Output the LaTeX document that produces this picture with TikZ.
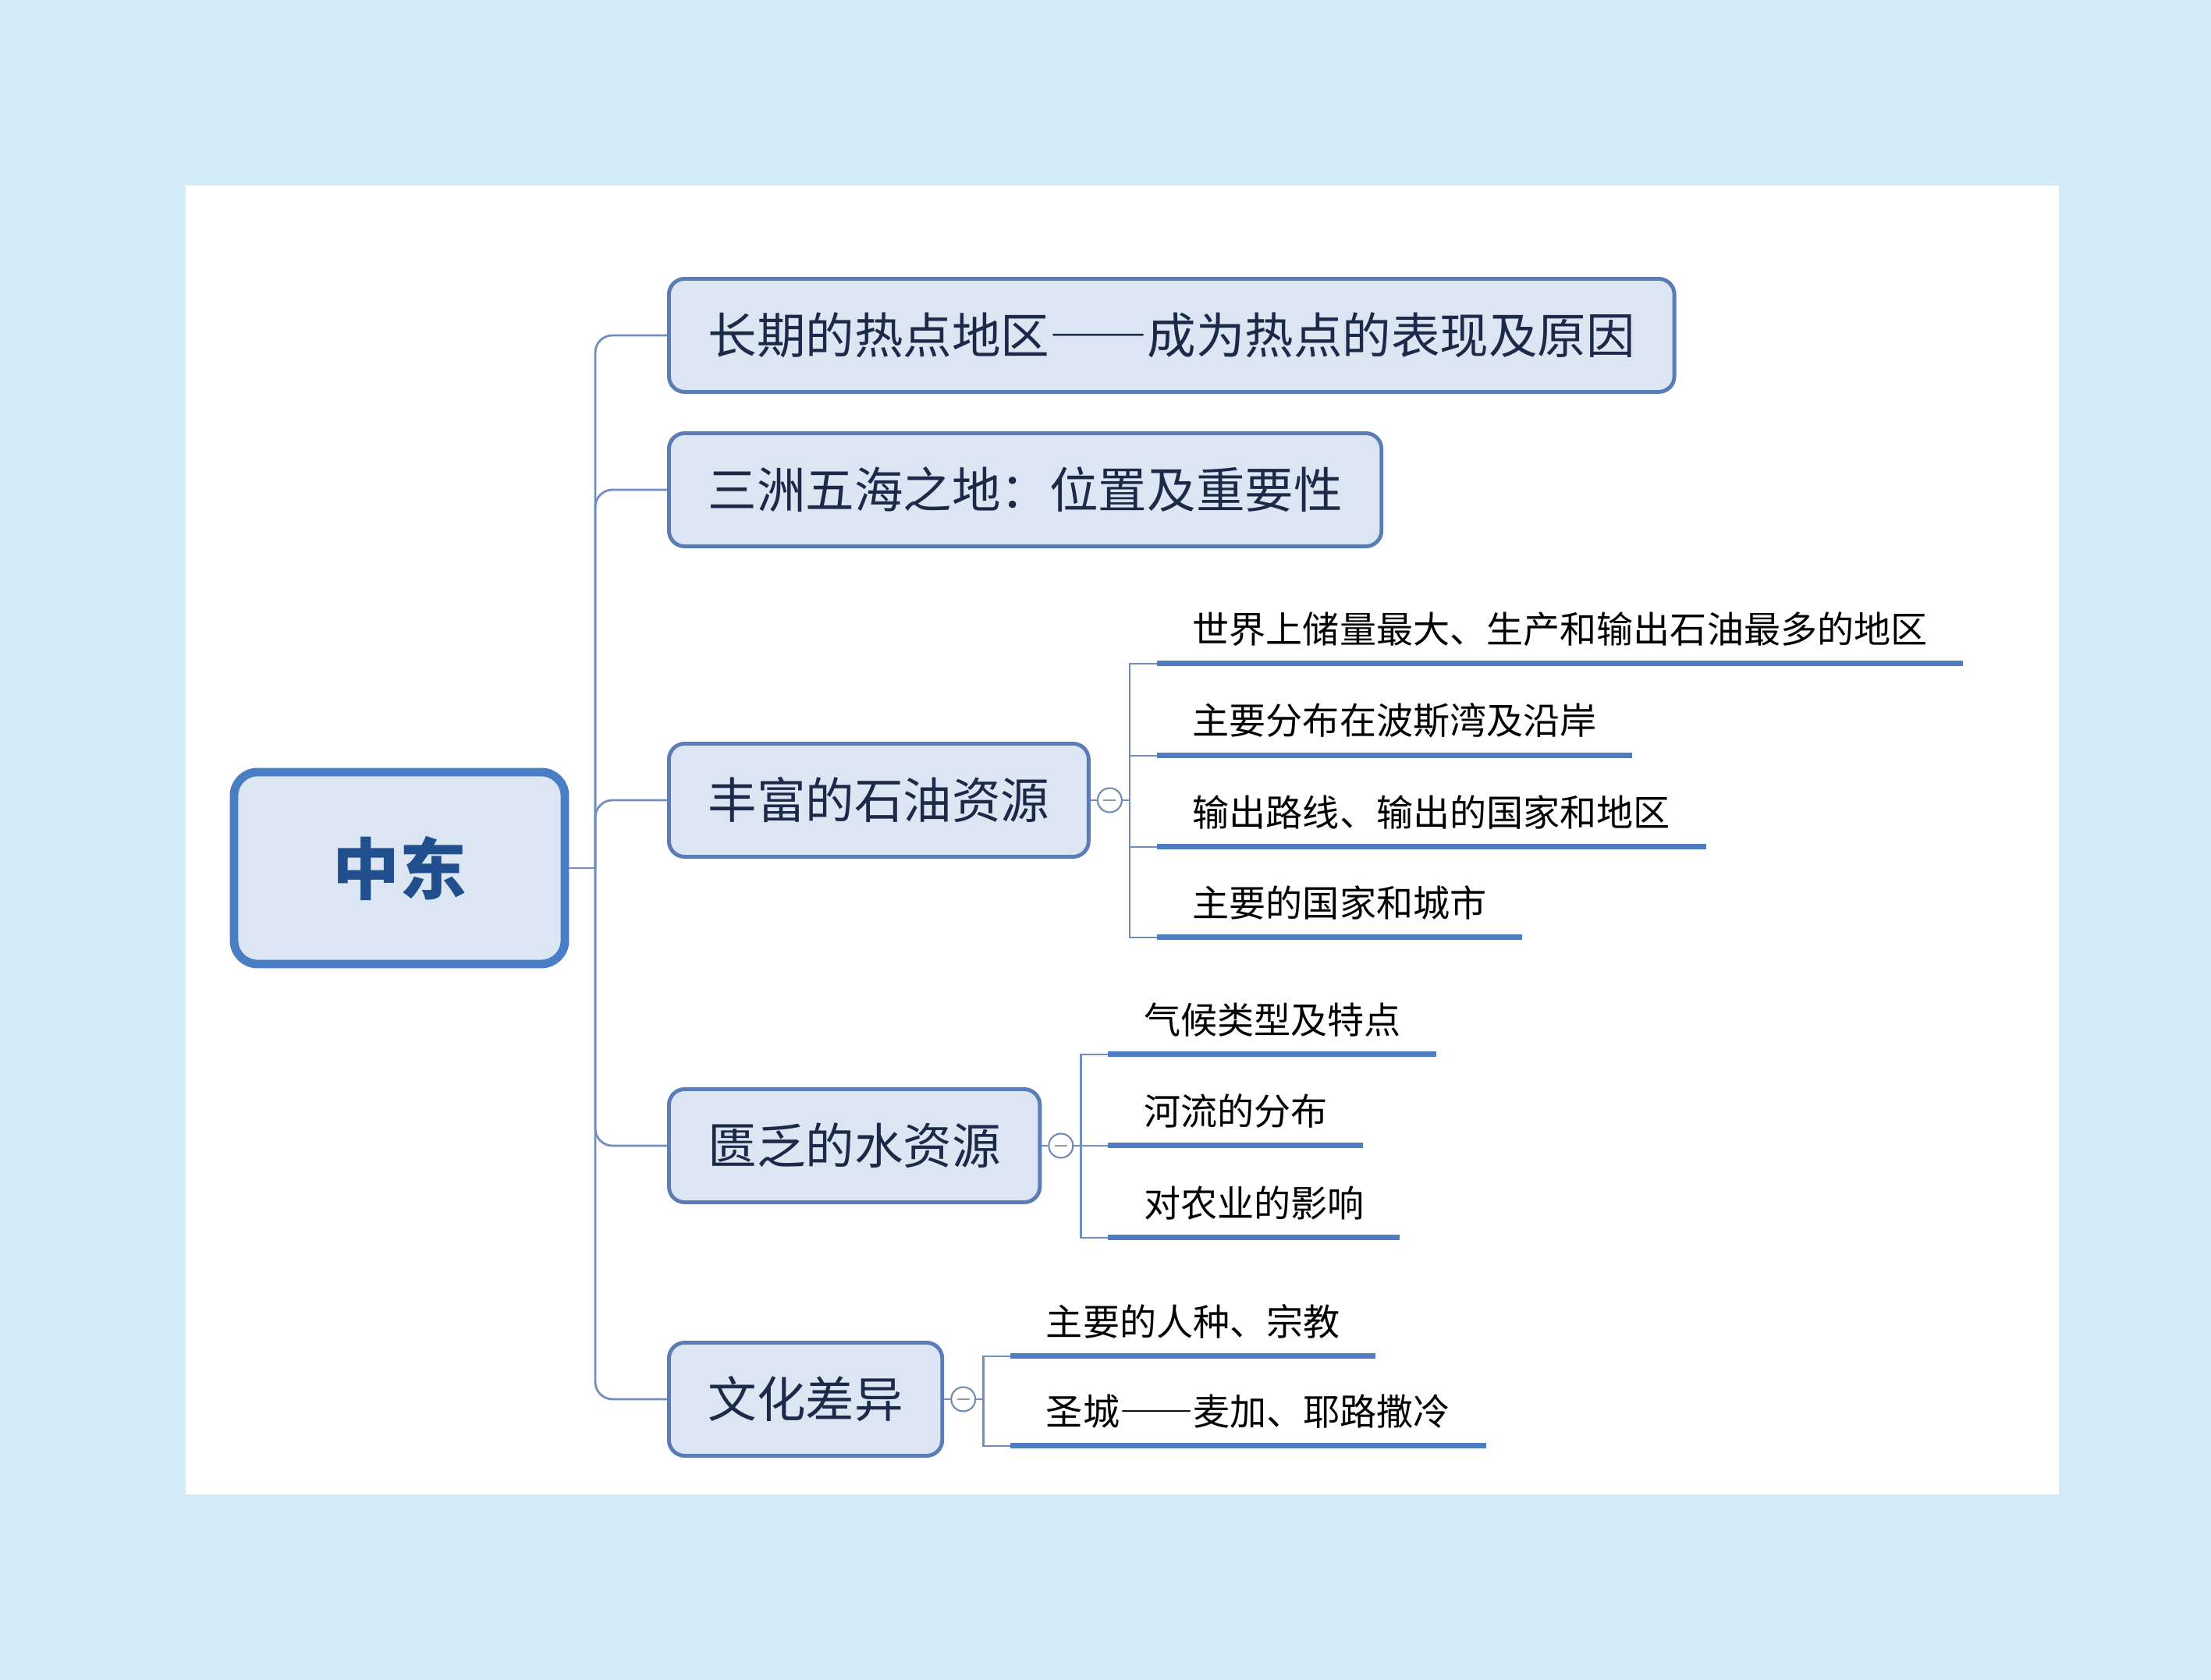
\documentclass[tikz,border=0pt]{standalone}
\usepackage{fontspec}
\newfontfamily\cjk[RawFeature={+fwid}]{Noto Sans CJK SC}
\usetikzlibrary{positioning, calc}
\definecolor{bgblue}{RGB}{213,237,249}
\definecolor{boxfill}{RGB}{220,230,243}
\definecolor{boxline}{RGB}{90,125,184}
\definecolor{rootline}{RGB}{74,126,196}
\definecolor{linkline}{RGB}{112,142,192}
\definecolor{barblue}{RGB}{79,126,192}
\definecolor{navy}{RGB}{27,42,72}
\definecolor{roottext}{RGB}{33,78,140}

\begin{document}
\begin{tikzpicture}[
    root/.style={draw=rootline, line width=3.1pt, rounded corners=3mm, fill=boxfill, minimum width=42.4mm, minimum height=24.6mm, font=\cjk\bfseries\fontsize{24.4pt}{28pt}\selectfont, text=roottext},
    topic/.style={draw=boxline, line width=1.4pt, rounded corners=2mm, fill=boxfill, minimum height=14.5mm, inner xsep=5mm, anchor=west, font=\cjk\fontsize{17.8pt}{20pt}\selectfont, text=navy},
    leaf/.style={inner xsep=4.5mm, inner ysep=2.2mm, anchor=south west, font=\cjk\fontsize{13.4pt}{16pt}\selectfont},
    fold/.style={circle, draw=linkline!80!gray, fill=white, line width=0.6pt, minimum size=3.1mm, inner sep=0pt, path picture={\draw[gray!80] (-0.8mm,0) -- (0.8mm,0);}},
    link/.style={draw=linkline, line width=0.8pt},
    bar/.style={draw=barblue, line width=2pt}
]
\useasboundingbox (0,0) rectangle (28.34,21.54);
\fill[bgblue] (0,0) rectangle (28.34,21.54);
\fill[white] (2.38,2.38) rectangle (26.39,19.16);

% main topic and branches
\node[root] (root) at (5.12,10.41) {中东};
\coordinate (trunk) at (7.63,10.41);
\node[topic] (hot) at (8.55,17.24) {长期的热点地区——成为热点的表现及原因};
\node[topic] (loc) at (8.55,15.26) {三洲五海之地：位置及重要性};
\node[topic] (oil) at (8.55,11.28) {丰富的石油资源};
\node[topic] (water) at (8.55,6.85) {匮乏的水资源};
\node[topic] (culture) at (8.55,3.60) {文化差异};

% fold buttons
\node[fold, right=0.8mm of oil] (oilfold) {};
\coordinate[right=0.9mm of oilfold] (oilfork);
\node[fold, right=0.8mm of water] (waterfold) {};
\coordinate[right=0.9mm of waterfold] (waterfork);
\node[fold, right=0.8mm of culture] (culturefold) {};
\coordinate[right=0.9mm of culturefold] (culturefork);

% leaves
\node[leaf] (oil1) at ($(oilfork)+(3.5mm,17.5mm)$) {世界上储量最大、生产和输出石油最多的地区};
\node[leaf] (oil2) at ($(oilfork)+(3.5mm,5.7mm)$) {主要分布在波斯湾及沿岸};
\node[leaf] (oil3) at ($(oilfork)+(3.5mm,-6mm)$) {输出路线、输出的国家和地区};
\node[leaf] (oil4) at ($(oilfork)+(3.5mm,-17.6mm)$) {主要的国家和城市};

\node[leaf] (water1) at ($(waterfork)+(3.5mm,11.7mm)$) {气候类型及特点};
\node[leaf] (water2) at ($(waterfork)+(3.5mm,0mm)$) {河流的分布};
\node[leaf] (water3) at ($(waterfork)+(3.5mm,-11.8mm)$) {对农业的影响};

\node[leaf] (culture1) at ($(culturefork)+(3.5mm,5.5mm)$) {主要的人种、宗教};
\node[leaf] (culture2) at ($(culturefork)+(3.5mm,-6mm)$) {圣城——麦加、耶路撒冷};

% connectors
\draw[link] (root) -- (trunk);
\foreach \t in {hot,loc,oil,water,culture}
  \draw[link, rounded corners=2.2mm] (trunk) |- (\t.west);

\foreach \t in {oil,water,culture} {
  \draw[link] (\t) -- (\t fold);
  \draw[link] (\t fold) -- (\t fork);
}
\foreach \l/\t in {oil1/oil,oil2/oil,oil3/oil,oil4/oil,water1/water,water2/water,water3/water,culture1/culture,culture2/culture} {
  \draw[link] (\t fork) |- (\l.south west);
  \draw[bar] (\l.south west) -- (\l.south east);
}
\end{tikzpicture}
\end{document}
